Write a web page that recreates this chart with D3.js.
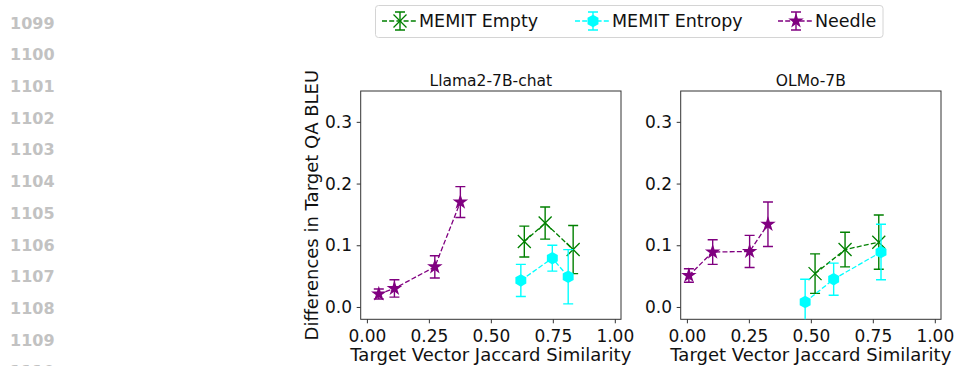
<!DOCTYPE html>
<html>
<head>
<meta charset="utf-8">
<script src="https://cdn.jsdelivr.net/npm/d3@7"></script>
<style>
  body { margin: 0; background: #fff; }
  svg { display: block; font-family: "DejaVu Sans", sans-serif; }
</style>
</head>
<body>
<svg width="955" height="366"></svg>
<script>
const panels = ['Llama2-7B-chat', 'OLMo-7B'];
const seriesNames = ['MEMIT Empty', 'MEMIT Entropy', 'Needle'];
const seriesColors = ['green', 'cyan', 'purple'];

// x = Jaccard similarity, y = BLEU difference, e = error
const emptyX = [[0.635, 0.719, 0.832], [0.517, 0.638, 0.774]];
const emptyY = [[0.106, 0.136, 0.093], [0.054, 0.093, 0.105]];
const emptyE = [[0.025, 0.026, 0.039], [0.032, 0.028, 0.044]];

const entropyX = [[0.621, 0.748, 0.812], [0.477, 0.592, 0.783]];
const entropyY = [[0.043, 0.079, 0.049], [0.008, 0.045, 0.089]];
const entropyE = [[0.026, 0.021, 0.044], [0.037, 0.026, 0.045]];

const needleX = [[0.048, 0.111, 0.274, 0.377], [0.008, 0.104, 0.253, 0.327]];
const needleY = [[0.021, 0.030, 0.065, 0.170], [0.051, 0.089, 0.090, 0.134]];
const needleE = [[0.008, 0.014, 0.018, 0.025], [0.011, 0.020, 0.026, 0.036]];

const xTicks = [0, 0.25, 0.5, 0.75, 1.0];
const yTicks = [0, 0.1, 0.2, 0.3];
const lineNumbers = [1099, 1100, 1101, 1102, 1103, 1104, 1105, 1106, 1107, 1108, 1109, 1110];

const svg = d3.select('svg');

// page line numbers at the left
svg.selectAll('.lineno')
    .data(lineNumbers)
    .enter()
    .append('text')
    .attr('x', 10)
    .attr('y', (d, i) => 28.6 + i * 31.7)
    .attr('font-size', 16)
    .attr('font-weight', 'bold')
    .attr('fill', '#c2c2c2')
    .text(d => d);

const TOP = 91, BOTTOM = 319.3;
const panelLeft = [360.7, 680.7];
const PANEL_W = 260.3;

const y = d3.scaleLinear().domain([-0.02, 0.35]).range([BOTTOM, TOP]);

function hexPath(r) {
    const pts = d3.range(6).map(k => {
        const a = Math.PI / 2 + k * Math.PI / 3;
        return [r * Math.cos(a), -r * Math.sin(a)];
    });
    return 'M' + pts.map(p => p.join(',')).join('L') + 'Z';
}

function drawMarker(g, kind, color) {
    if (kind === 0) {
        g.append('path').attr('d', 'M-6.5,-6.5L6.5,6.5M-6.5,6.5L6.5,-6.5')
            .attr('stroke', color).attr('stroke-width', 1.3).attr('fill', 'none');
    } else if (kind === 1) {
        g.append('path').attr('d', hexPath(6.3)).attr('fill', color);
    } else {
        g.append('path').attr('d', d3.symbol(d3.symbolStar, 75)()).attr('fill', color);
    }
}

const allX = [emptyX, entropyX, needleX];
const allY = [emptyY, entropyY, needleY];
const allE = [emptyE, entropyE, needleE];

panels.forEach((title, p) => {
    const x = d3.scaleLinear().domain([-0.025, 1.025]).range([panelLeft[p], panelLeft[p] + PANEL_W]);
    const chart = svg.append('g');

    chart.append('clipPath').attr('id', 'clip' + p)
        .append('rect')
        .attr('x', panelLeft[p]).attr('y', TOP)
        .attr('width', PANEL_W).attr('height', BOTTOM - TOP);

    const xAxis = chart.append('g')
        .attr('transform', `translate(0, ${BOTTOM})`)
        .call(d3.axisBottom(x).tickValues(xTicks).tickFormat(d3.format('.2f')).tickSize(4).tickSizeOuter(0));
    const yAxis = chart.append('g')
        .attr('transform', `translate(${panelLeft[p]}, 0)`)
        .call(d3.axisLeft(y).tickValues(yTicks).tickFormat(d3.format('.1f')).tickSize(4).tickSizeOuter(0));
    [xAxis, yAxis].forEach(a => {
        a.select('.domain').remove();
        a.selectAll('line').attr('stroke', '#333');
        a.selectAll('text').attr('font-size', 17).attr('fill', '#111')
            .attr('font-family', '"DejaVu Sans", sans-serif');
    });
    xAxis.selectAll('text').attr('dy', '0.95em');
    yAxis.selectAll('text').attr('dx', '-0.1em');

    chart.append('rect')
        .attr('x', panelLeft[p]).attr('y', TOP)
        .attr('width', PANEL_W).attr('height', BOTTOM - TOP)
        .attr('fill', 'none').attr('stroke', '#333').attr('stroke-width', 1);

    chart.append('text')
        .attr('x', panelLeft[p] + PANEL_W / 2).attr('y', 86)
        .attr('text-anchor', 'middle').attr('font-size', 15.5).attr('fill', '#111')
        .text(title);

    chart.append('text')
        .attr('x', panelLeft[p] + PANEL_W / 2).attr('y', 361)
        .attr('text-anchor', 'middle').attr('font-size', 18).attr('fill', '#111')
        .text('Target Vector Jaccard Similarity');

    if (p === 0) {
        chart.append('text')
            .attr('transform', `translate(318, ${(TOP + BOTTOM) / 2}) rotate(-90)`)
            .attr('text-anchor', 'middle').attr('font-size', 18).attr('fill', '#111')
            .text('Differences in Target QA BLEU');
    }

    const plot = chart.append('g').attr('clip-path', `url(#clip${p})`);

    seriesNames.forEach((name, s) => {
        const color = seriesColors[s];
        const pts = allX[s][p].map((xv, i) => ({ x: xv, y: allY[s][p][i], e: allE[s][p][i] }));

        plot.append('path')
            .datum(pts)
            .attr('d', d3.line().x(d => x(d.x)).y(d => y(d.y)))
            .attr('fill', 'none').attr('stroke', color).attr('stroke-width', 1.3)
            .attr('stroke-dasharray', '5,2.2');

        const eb = plot.selectAll('.eb' + s)
            .data(pts)
            .enter()
            .append('path')
            .attr('d', d => {
                const cx = x(d.x), y0 = y(d.y - d.e), y1 = y(d.y + d.e);
                return `M${cx},${y0}L${cx},${y1}M${cx - 5},${y0}L${cx + 5},${y0}M${cx - 5},${y1}L${cx + 5},${y1}`;
            })
            .attr('stroke', color).attr('stroke-width', 1.4).attr('fill', 'none');

        plot.selectAll('.mk' + s)
            .data(pts)
            .enter()
            .append('g')
            .attr('transform', d => `translate(${x(d.x)}, ${y(d.y)})`)
            .each(function () { drawMarker(d3.select(this), s, color); });
    });
});

// legend
const legend = svg.append('g');
legend.append('rect')
    .attr('x', 375.5).attr('y', 5.5).attr('width', 507.5).attr('height', 32)
    .attr('rx', 3).attr('fill', '#fff').attr('stroke', '#d4d4d4');

const legendX = [382, 575, 778];
seriesNames.forEach((name, s) => {
    const color = seriesColors[s];
    const g = legend.append('g').attr('transform', `translate(${legendX[s]}, 21)`);
    g.append('path').attr('d', 'M0,0L36,0')
        .attr('stroke', color).attr('stroke-width', 1.3).attr('stroke-dasharray', '5,2.2');
    g.append('path').attr('d', 'M18,-9L18,9M13,-9L23,-9M13,9L23,9')
        .attr('stroke', color).attr('stroke-width', 1.4).attr('fill', 'none');
    drawMarker(g.append('g').attr('transform', 'translate(18,0)'), s, color);
    g.append('text').attr('x', 37).attr('y', 6.3)
        .attr('font-size', 17.5).attr('fill', '#111').text(name);
});
</script>
</body>
</html>
